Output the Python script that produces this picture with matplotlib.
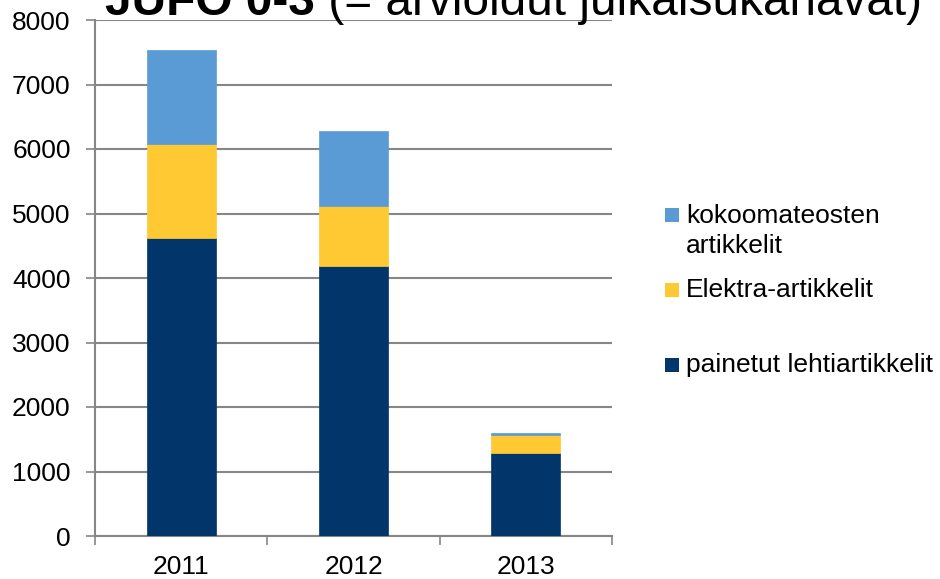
import matplotlib.pyplot as plt
from matplotlib.patches import Rectangle
import numpy as np

years = ['2011', '2012', '2013']
painetut = [4620, 4190, 1290]
elektra = [1460, 925, 275]
kokoomateos = [1455, 1165, 25]

series_names = ['painetut lehtiartikkelit', 'Elektra-artikkelit', 'kokoomateosten\nartikkelit']
series_colors = ['#02366A', '#FFC933', '#5B9BD5']
yticks = [0, 1000, 2000, 3000, 4000, 5000, 6000, 7000, 8000]

plt.rcParams['font.family'] = ['Liberation Sans', 'DejaVu Sans']

fig = plt.figure(figsize=(9.4, 5.79), dpi=100)
ax = fig.add_axes([95/940, 1-536/579, 517/940, 516/579])

x = np.arange(len(years))
bottom = np.zeros(len(years))
for vals, col in zip([painetut, elektra, kokoomateos], series_colors):
    ax.bar(x, vals, width=0.4, bottom=bottom, color=col, edgecolor=col, linewidth=0.5, zorder=3)
    bottom = bottom + np.array(vals)

ax.set_xlim(-0.5, 2.5)
ax.set_ylim(0, 8000)
ax.set_yticks(yticks)
ax.yaxis.grid(True, color='#868686', linewidth=1.5, zorder=0)
ax.tick_params(axis='y', labelsize=19, length=6.5, width=1.2, color='#868686', pad=11)

# category labels in the middle, tick marks on the boundaries
ax.set_xticks(x)
ax.set_xticklabels(years)
ax.tick_params(axis='x', which='major', labelsize=19, length=0, pad=14)
ax.set_xticks([-0.5, 0.5, 1.5, 2.5], minor=True)
ax.tick_params(axis='x', which='minor', length=6.5, width=1.2, color='#868686')

for s in ['top', 'right']:
    ax.spines[s].set_visible(False)
for s in ['left', 'bottom']:
    ax.spines[s].set_color('#868686')
    ax.spines[s].set_linewidth(1.5)

# title, clipped at the top like in the original
title_y = 1-15/579
t1 = fig.text(105/940, title_y, 'JUFO 0-3', fontsize=34.4, fontweight='bold', va='baseline')
t2 = fig.text(0, title_y, ' (= arvioidut julkaisukanavat)', fontsize=34.4, va='baseline')
fig.canvas.draw()
bb = t1.get_window_extent()
t2.set_position((bb.x1/940, title_y))

# legend drawn by hand
sq_y = [365, 290, 215]
txt_y = [365, 290, 231]
for name, col, sy, ty in zip(series_names, series_colors, sq_y, txt_y):
    fig.patches.append(Rectangle((665/940, 1-(sy+7)/579), 14/940, 14/579,
                                 transform=fig.transFigure, facecolor=col, edgecolor='none'))
    fig.text(686/940, 1-ty/579, name, fontsize=19, va='center', linespacing=1.28)

plt.savefig('out.png', dpi=100)
